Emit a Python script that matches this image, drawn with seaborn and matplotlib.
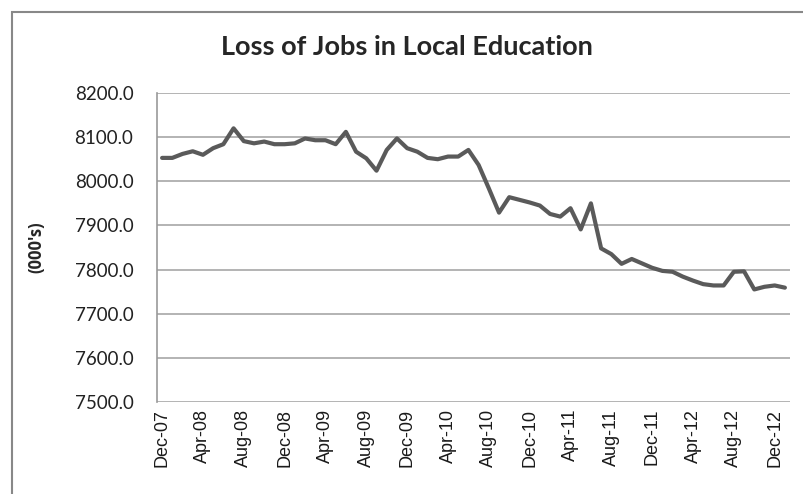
import matplotlib
matplotlib.use("Agg")
import matplotlib.pyplot as plt
import seaborn as sns
import pandas as pd
from matplotlib.patches import Rectangle

# monthly local-education jobs, Dec-07 .. Jan-13 (thousands)
months = list(pd.date_range("2007-12-01", periods=62, freq="MS").strftime("%b-%y"))
jobs = [
    8053, 8053, 8062, 8068, 8060, 8075, 8084, 8120, 8091, 8086,
    8090, 8084, 8084, 8086, 8097, 8093, 8093, 8084, 8112, 8067,
    8052, 8024, 8071, 8097, 8075, 8067, 8053, 8050, 8056, 8056,
    8071, 8037, 7984, 7929, 7964, 7958, 7952, 7945, 7926, 7920,
    7939, 7891, 7950, 7848, 7835, 7813, 7824, 7814, 7804, 7797,
    7795, 7784, 7775, 7767, 7764, 7764, 7795, 7796, 7755, 7761,
    7764, 7759,
]
tick_labels = ["Dec-07", "Apr-08", "Aug-08", "Dec-08", "Apr-09", "Aug-09",
               "Dec-09", "Apr-10", "Aug-10", "Dec-10", "Apr-11", "Aug-11",
               "Dec-11", "Apr-12", "Aug-12", "Dec-12"]
y_ticks = [7500, 7600, 7700, 7800, 7900, 8000, 8100, 8200]

df = pd.DataFrame({"month": months, "jobs": jobs})

sns.set_style("white")
fig = plt.figure(figsize=(8.04, 4.94), dpi=100)
ax = fig.add_axes([157 / 804, 1 - 402 / 494, (790 - 157) / 804, (402 - 93) / 494])

sns.lineplot(data=df, x="month", y="jobs", ax=ax, color="#5a5a5a",
             linewidth=3.0, sort=False)

ax.set_xlim(-0.5, len(months) - 0.5)
ax.set_ylim(7500, 8200)
ax.set_xticks(range(0, len(months), 4))
ax.set_xticklabels(tick_labels, rotation=90, fontsize=13,
                   family=["Liberation Sans Narrow", "Liberation Sans"],
                   color="#1a1a1a")
ax.set_yticks(y_ticks)
ax.set_yticklabels([f"{v:.1f}" for v in y_ticks], fontsize=13.5,
                   family="Lato", color="#222222")
ax.tick_params(axis="x", length=0, pad=5)
ax.tick_params(axis="y", length=0, pad=17)

ax.grid(axis="y", color="#b3b3b3", linewidth=1.4)
ax.set_axisbelow(True)
for side in ["top", "right", "bottom"]:
    ax.spines[side].set_visible(False)
ax.spines["left"].set_color("#999999")
ax.spines["left"].set_linewidth(1.2)

ax.set_xlabel("")
ax.set_ylabel("")
fig.text(36 / 804, 1 - 247 / 494, "(000's)", rotation=90, ha="center",
         va="center", fontsize=12, fontweight="bold", family="Open Sans")

fig.text(407 / 804, 1 - 47 / 494, "Loss of Jobs in Local Education",
         ha="center", va="center", fontsize=19.5, fontweight="bold",
         family="Lato")

# outer chart frame
fig.patches.append(Rectangle((12 / 804, -0.2), 1.2, 1.2 - 12 / 494,
                             transform=fig.transFigure, fill=False,
                             edgecolor="#888888", linewidth=1.5))

fig.savefig("out.png", dpi=100)
